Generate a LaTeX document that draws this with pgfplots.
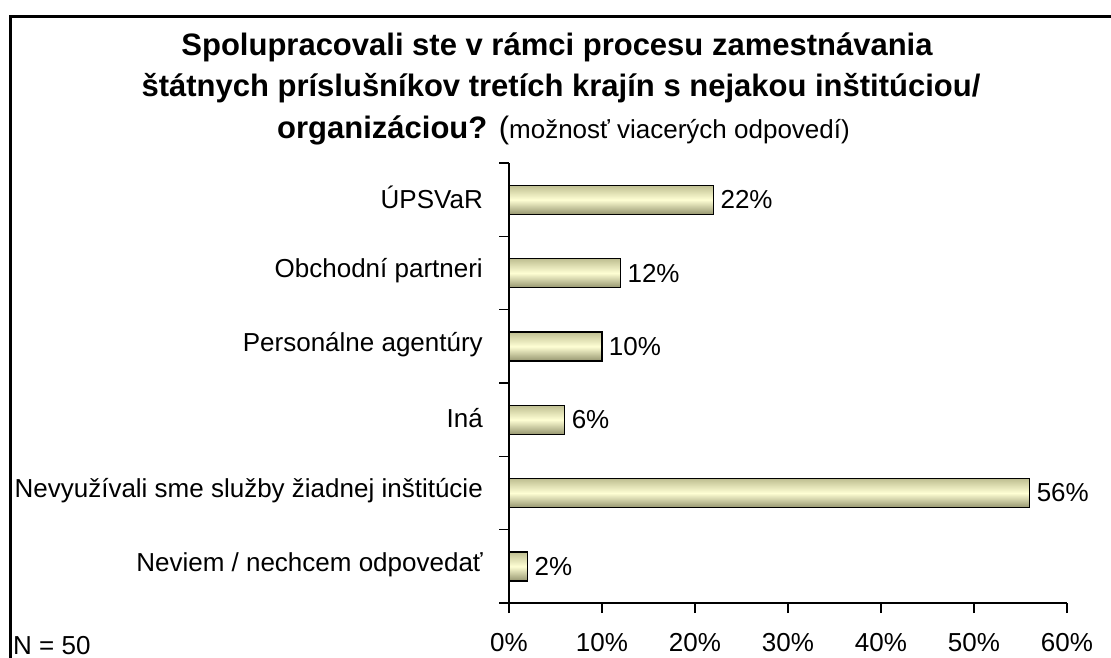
\documentclass[border=0pt]{standalone}
\usepackage{pgfplots}
\pgfplotsset{compat=1.18}
\usepackage{fontspec}
\setmainfont{Liberation Sans}
\definecolor{bartop}{RGB}{190,190,145}
\definecolor{barmid}{RGB}{255,255,212}
\definecolor{barbot}{RGB}{150,150,112}
\begin{document}
\begin{tikzpicture}
\useasboundingbox (0pt,0pt) rectangle (1111pt,-657pt);
\draw[line width=2.5pt] (10.5pt,-670pt) -- (10.5pt,-16.5pt) -- (1120pt,-16.5pt);
\node[anchor=base, font=\fontsize{31}{36}\selectfont\bfseries] at (557pt,-55pt) {Spolupracovali ste v rámci procesu zamestnávania};
\node[anchor=base, font=\fontsize{31}{36}\selectfont\bfseries] at (561pt,-96pt) {štátnych príslušníkov tretích krajín s nejakou inštitúciou/};
\node[anchor=base west, inner sep=0pt] at (277pt,-138pt) {\fontsize{31}{36}\selectfont\bfseries organizáciou? \mdseries(\fontsize{26}{30}\selectfont možnosť viacerých odpovedí)};
\node[anchor=base west, inner sep=0pt, font=\fontsize{26}{30}\selectfont] at (13pt,-654pt) {N = 50};
\begin{axis}[
  at={(509pt,-603pt)}, anchor=south west,
  scale only axis, width=558pt, height=440pt,
  xbar, bar width=29pt, bar shift=0pt,
  xmin=0, xmax=60, ymin=-0.5, ymax=5.5, y dir=reverse,
  axis x line=bottom, axis y line=left,
  axis line style={line width=1.3pt, -},
  tick align=outside,
  major tick length=10pt, minor tick length=10pt,
  every tick/.style={line width=1.3pt, black},
  xtick={0,10,...,60},
  xticklabels={0\%,10\%,20\%,30\%,40\%,50\%,60\%},
  ytick={0,...,5},
  yticklabels={ÚPSVaR,Obchodní partneri,Personálne agentúry,Iná,Nevyužívali sme služby žiadnej inštitúcie,Neviem / nechcem odpovedať},
  minor ytick={-0.5,0.5,...,5.5},
  major y tick style={draw=none},
  ticklabel style={font=\fontsize{26}{30}\selectfont},
  yticklabel style={inner sep=0pt, xshift=-16pt, yshift=2pt},
  xticklabel style={yshift=-17pt},
  /pgf/number format/assume math mode=true,
  nodes near coords={\pgfmathprintnumber{\pgfplotspointmeta}\%},
  every node near coord/.append style={font=\fontsize{26}{30}\selectfont, black, xshift=3pt},
  clip=false,
  barstyle/.style={draw=black, line width=1.3pt, top color=bartop, bottom color=barbot, middle color=barmid},
]
\addplot[barstyle] coordinates {(22,0)};
\addplot[barstyle] coordinates {(12,1)};
\addplot[barstyle] coordinates {(10,2)};
\addplot[barstyle] coordinates {(6,3)};
\addplot[barstyle] coordinates {(56,4)};
\addplot[barstyle] coordinates {(2,5)};
\end{axis}
\end{tikzpicture}
\end{document}
